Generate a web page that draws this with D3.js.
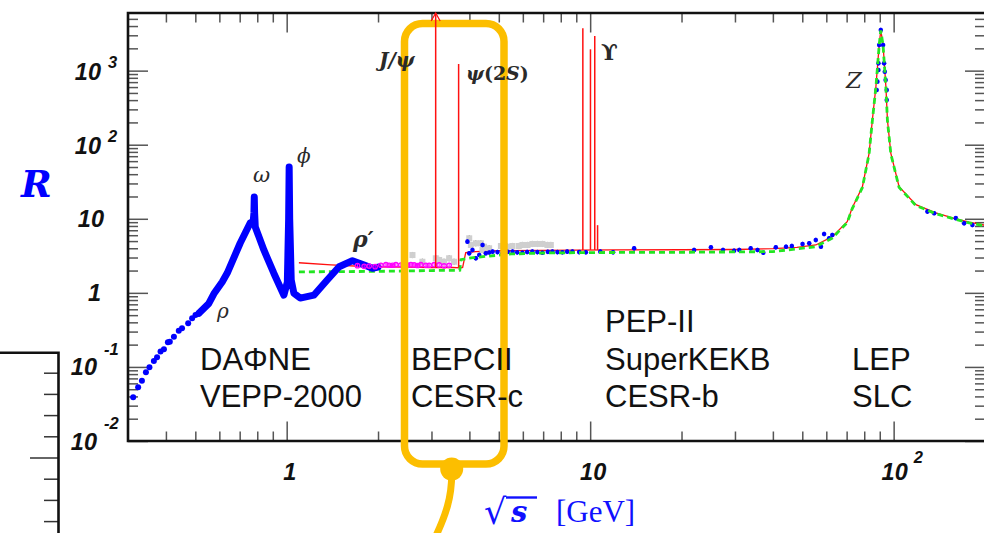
<!DOCTYPE html>
<html><head><meta charset="utf-8">
<script src="https://cdn.jsdelivr.net/npm/d3@7/dist/d3.min.js"></script>
<style>html,body{margin:0;padding:0;background:#fff;overflow:hidden}svg{display:block}</style>
</head><body>
<svg id="chart" width="984" height="533"></svg>
<script>
// ---------------- DATA ----------------
// low-energy e+e- -> hadrons (sparse points)
const lowSparseX = [0.312,0.324,0.3334,0.3437,0.353,0.365,0.374,0.384,0.394,0.406,0.412,0.425,0.441,0.452,0.4736,0.488,0.5006,0.5137];
const lowSparseR = [0.0389,0.0531,0.0652,0.0846,0.0989,0.120,0.135,0.161,0.173,0.215,0.219,0.256,0.308,0.332,0.389,0.454,0.503,0.53];
// low-energy dense band (rho, omega, phi, rho')
const lowBandX = [0.5137,0.534,0.554,0.5755,0.613,0.637,0.703,0.730,0.758,0.776,0.780,0.782,0.784,0.788,0.841,0.907,0.979,1.005,1.015,1.019,1.023,1.035,1.056,1.108,1.229,1.36,1.489,1.647,1.80,1.918,2.0];
const lowBandR = [0.53,0.62,0.72,0.97,1.4,1.85,4.71,6.43,8.77,9.3,12,19.7,12,7.75,3.79,1.84,0.93,1.4,10,50,10,1.5,0.99,0.85,0.93,1.49,2.25,2.72,2.38,2.15,2.23];
// parametrisation (red) and naive quark model (green dashed)
const redX = [1.097,1.4,1.87,2.5,3.0,3.52,3.75,3.80,3.89,4.2,5.0,7.0,9.0,12,20,30,40,48,55.4,62.8,70.3,73.0,78.9,83.0,85.1,87.4,89.6,90.7,92.3,94.3,95.4,97.9,104.2,118.4,137.7,160.3,177.4,200];
const redR = [2.55,2.38,2.25,2.22,2.2,2.2,2.18,2.2,3.5,3.6,3.7,3.75,3.78,3.8,3.82,3.85,3.95,4.1,4.43,5.73,9.14,14,27.1,76.6,216,606,2220,3540,2220,606,216,76.6,27.1,15.5,12,10,9,8.2];
const greenX = [1.097,2.0,3.0,3.72,3.75,4.0,4.5,5.5,7,10,20,40,55.4,62.8,70.3,73.0,78.9,83.0,85.1,87.4,89.6,90.7,92.3,94.3,95.4,97.9,104.2,118.4,137.7,160.3,177.4,200];
const greenR = [1.92,1.95,2.0,2.02,2.8,2.95,3.1,3.35,3.45,3.5,3.53,3.6,4.2,5.5,8.9,13.6,26.5,75,212,595,2180,3480,2180,595,212,75,26.5,15.1,11.7,9.8,8.8,8.0];
// narrow resonances
const resNames = ["J/psi","psi(2S)","Y(1S)","Y(2S)","Y(3S)","Y(4S)"];
const resMass = [3.097,3.686,9.460,10.023,10.355,10.579];
const resBase = [2.2,2.2,3.8,3.8,3.8,3.8];
const resPeak = [100000,1230,3730,1940,2940,8.2];
// magenta points
const magX = [1.711,1.80,1.870,1.956,2.044,2.123,2.177,2.232,2.290,2.378,2.438,2.500,2.566,2.631,2.698,2.768,2.875,2.948,3.062,3.18,3.30,3.43];
const magR = [2.33,2.28,2.3,2.26,2.36,2.4,2.36,2.36,2.4,2.37,2.43,2.37,2.4,2.38,2.34,2.4,2.36,2.36,2.4,2.38,2.32,2.35];
// grey points
const grayX = [2.597,2.80,3.10,3.18,3.30,3.43,3.56,3.995,4.045,4.20,4.364,4.418,4.47,4.647,5.08,5.33,5.546,5.82,5.98,6.22,6.45,6.70,6.96,7.23,7.42];
const grayR = [3.24,2.63,2.93,2.78,2.63,2.93,2.63,5.45,4.43,4.67,4.67,3.79,4.2,4.0,4.29,4.2,4.29,4.29,4.43,4.43,4.57,4.57,4.57,4.43,4.43];
// blue points above charm threshold
const blueX = [3.94,3.995,4.094,4.20,4.31,4.42,4.53,4.65,4.77,4.95,5.14,5.35,5.55,5.75,5.98,6.2,6.45,6.7,6.96,7.25,7.51,7.8,8.10,8.4,8.74,9.2,9.68,10.8,11.9,13.96,22.0,25.0,27.4,29.8,31.0,33.8,35.6,37.2,40.9,44.2,46.2,50.1,52.7,55.4,57.6,59.0,61.3,62.8,87.9,88.4,89.1,89.1,89.6,90.7,92.3,93.0,93.5,94.1,94.9,94.9,129.2,136.0,160.3,170.7,181.8];
const blueR = [4.91,3.42,3.79,2.93,3.24,4.43,3.42,3.5,3.60,3.55,3.42,3.58,3.60,3.52,3.48,3.56,3.60,3.55,3.48,3.58,3.60,3.55,3.53,3.6,3.60,3.55,3.53,3.6,3.53,4.0,3.79,4.12,3.79,3.71,3.79,4.0,3.79,3.48,4.12,4.2,4.29,4.57,4.67,5.17,4.2,6.23,5.45,6.04,548,710,1020,1256,2220,3540,2220,1256,968,748,548,401,12.5,11.9,10.2,8.69,8.24];
// axis ticks
const xMajor = [1,10,100];
const xMajorBase = ["1","10","10"];
const xMajorExp = ["","","2"];
const yMajor = [0.01,0.1,1,10,100,1000];
const yMajorBase = ["10","10","1","10","10","10"];
const yMajorExp = ["-2","-1","","","2","3"];
// annotations
const colliderCols = [["DAΦNE","VEPP-2000"],["BEPCII","CESR-c"],["PEP-II","SuperKEKB","CESR-b"],["LEP","SLC"]];

// ---------------- DRAW ----------------
const svg = d3.select("#chart");
const L=128,R=985,T=13,B=441;
const x = d3.scaleLog().domain([0.3,200]).range([L,R]);
const y = d3.scaleLog().domain([0.01,6000]).range([B,T]);
const zip = (a,b)=>a.map((v,i)=>[v,b[i]]);

svg.append("defs").append("clipPath").attr("id","plot")
  .append("rect").attr("x",L).attr("y",T).attr("width",R-L).attr("height",B-T);

// ---- neighbouring panel (cropped) ----
const y2 = d3.scaleLinear().domain([0,1]).range([458,373.2]);
const p2 = svg.append("g");
p2.selectAll("line.t2").data(d3.range(-0.75,1.01,0.25)).join("line")
  .attr("x1",d=>Math.abs(d)<1e-9?30:44).attr("x2",58)
  .attr("y1",d=>y2(d)).attr("y2",d=>y2(d)).attr("stroke","#333").attr("stroke-width",1.5);
p2.append("path").attr("d","M0,352.7H58.5V540").attr("fill","none").attr("stroke","#111").attr("stroke-width",2.6);

// ---- axes ticks ----
const allX = x.ticks().filter(v=>v>0.3001 && v<199.9);
const minorX = allX.filter(v=>!xMajor.includes(v));
const allY = y.ticks().filter(v=>v>0.0101 && v<5999);
const minorY = allY.filter(v=>!yMajor.some(m=>Math.abs(m-v)/m<1e-6));
const tickCol="#555";
const gx = svg.append("g");
function axisTicks(vals, len){
  gx.append("g").attr("transform",`translate(0,${B})`).call(d3.axisBottom(x).tickValues(vals).tickSize(-len).tickFormat(""))
    .call(g=>{g.select(".domain").remove();g.selectAll("line").attr("stroke",tickCol).attr("stroke-width",1.5);});
  gx.append("g").attr("transform",`translate(0,${T})`).call(d3.axisTop(x).tickValues(vals).tickSize(-len).tickFormat(""))
    .call(g=>{g.select(".domain").remove();g.selectAll("line").attr("stroke",tickCol).attr("stroke-width",1.5);});
}
axisTicks(minorX,9.5); axisTicks(xMajor,19.5);
function axisTicksY(vals,len){
  gx.append("g").attr("transform",`translate(${L},0)`).call(d3.axisLeft(y).tickValues(vals).tickSize(-len).tickFormat(""))
    .call(g=>{g.select(".domain").remove();g.selectAll("line").attr("stroke",tickCol).attr("stroke-width",1.5);});
  gx.append("g").attr("transform",`translate(${R},0)`).call(d3.axisRight(y).tickValues(vals).tickSize(-len).tickFormat(""))
    .call(g=>{g.select(".domain").remove();g.selectAll("line").attr("stroke",tickCol).attr("stroke-width",1.5);});
}
axisTicksY(minorY,10); axisTicksY(yMajor,20);

// tick labels
const tickFont = "'Liberation Sans',Arial,Helvetica,sans-serif";
const xl = svg.append("g").attr("font-family",tickFont).attr("font-weight","bold").attr("font-style","italic").attr("fill","#111");
xMajor.forEach((v,i)=>{
  xl.append("text").attr("x",x(v)+ (i===2?1:3)).attr("y",480).attr("text-anchor","middle").attr("font-size",23.5).text(xMajorBase[i]);
  if(xMajorExp[i]) xl.append("text").attr("x",x(v)+20).attr("y",463).attr("font-size",16.5).text(xMajorExp[i]);
});
yMajor.forEach((v,i)=>{
  const e = yMajorExp[i];
  if(!e){
    xl.append("text").attr("x",yMajorBase[i]==="1"?101:104).attr("y",y(v)+8.5).attr("text-anchor","end").attr("font-size",23.5).text(yMajorBase[i]);
  } else if(e.startsWith("-")){
    xl.append("text").attr("x",97).attr("y",y(v)+8.5).attr("text-anchor","end").attr("font-size",23.5).text(yMajorBase[i]);
    xl.append("text").attr("x",104).attr("y",y(v)-12).attr("font-size",16.5).text(e);
  } else {
    xl.append("text").attr("x",101).attr("y",y(v)+9.5).attr("text-anchor","end").attr("font-size",23.5).text(yMajorBase[i]);
    xl.append("text").attr("x",108).attr("y",y(v)-2.5).attr("font-size",16.5).text(e);
  }
});

// ---- data layer ----
const gd = svg.append("g").attr("clip-path","url(#plot)");
const line = d3.line().x(d=>x(d[0])).y(d=>y(d[1]));

// red parametrisation
gd.append("path").datum(zip(redX,redR)).attr("d",line).attr("fill","none").attr("stroke","#ff1010").attr("stroke-width",1.3);
// grey points with error bars
const gray = zip(grayX,grayR);
gd.selectAll("line.ge").data(gray).join("line").attr("x1",d=>x(d[0])).attr("x2",d=>x(d[0]))
  .attr("y1",d=>y(d[1]*1.1)).attr("y2",d=>y(d[1]/1.1)).attr("stroke","#666").attr("stroke-width",1);
gd.selectAll("rect.gp").data(gray).join("rect").attr("x",d=>x(d[0])-3).attr("y",d=>y(d[1])-3)
  .attr("width",6).attr("height",6).attr("fill","#cfcfcf");
// blue points
const blue = zip(blueX,blueR);
gd.selectAll("line.be").data(blue).join("line").attr("x1",d=>x(d[0])).attr("x2",d=>x(d[0]))
  .attr("y1",d=>y(d[1]*1.07)).attr("y2",d=>y(d[1]/1.07)).attr("stroke","#0000ee").attr("stroke-width",1.4);
gd.selectAll("circle.bp").data(blue).join("circle").attr("cx",d=>x(d[0])).attr("cy",d=>y(d[1])).attr("r",2.3).attr("fill","#0000ff");
// green dashed
gd.append("path").datum(zip(greenX,greenR)).attr("d",line).attr("fill","none").attr("stroke","#22e622")
  .attr("stroke-width",2.8).attr("stroke-dasharray","6,4");
// low energy band + sparse
gd.append("path").datum(zip(lowBandX,lowBandR)).attr("d",line).attr("fill","none").attr("stroke","#0000ff")
  .attr("stroke-width",7).attr("stroke-linejoin","round").attr("stroke-linecap","round");
gd.selectAll("circle.lp").data(zip(lowSparseX,lowSparseR)).join("circle").attr("cx",d=>x(d[0])).attr("cy",d=>y(d[1])).attr("r",3).attr("fill","#0000ff");
// magenta points
const mag = zip(magX,magR);
gd.selectAll("line.me").data(mag).join("line").attr("x1",d=>x(d[0])).attr("x2",d=>x(d[0]))
  .attr("y1",d=>y(d[1]*1.05)).attr("y2",d=>y(d[1]/1.05)).attr("stroke","#ff00ff").attr("stroke-width",1);
gd.selectAll("circle.mp").data(mag).join("circle").attr("cx",d=>x(d[0])).attr("cy",d=>y(d[1])).attr("r",2.2)
  .attr("fill","none").attr("stroke","#ff00ff").attr("stroke-width",1.3);
// narrow resonance spikes (except J/psi drawn later above overlay)
const res = resMass.map((m,i)=>({m,b:resBase[i],p:resPeak[i],n:resNames[i]}));
gd.selectAll("line.rs").data(res.slice(1)).join("line").attr("x1",d=>x(d.m)).attr("x2",d=>x(d.m))
  .attr("y1",d=>y(d.b)).attr("y2",d=>y(d.p)).attr("stroke","#ff1010").attr("stroke-width",1.5);

// frame
svg.append("path").attr("d",`M${R},${T}H${L}V${B}H${R}`).attr("fill","none").attr("stroke","#111").attr("stroke-width",2.6);

// ---- orange highlight overlay ----
const og = svg.append("g").attr("stroke","#fcbe00").attr("fill","none");
og.append("rect").attr("x",404.5).attr("y",23.5).attr("width",99.5).attr("height",440.5).attr("rx",18).attr("stroke-width",7.5);
og.append("circle").attr("cx",451.7).attr("cy",469).attr("r",11.5).attr("fill","#fcbe00").attr("stroke","none");
og.append("path").attr("d","M451.7,472 C452,497 446,515 434,540").attr("stroke-width",7);

// J/psi spike with arrow (over overlay)
const jp = res[0];
svg.append("line").attr("x1",x(jp.m)).attr("x2",x(jp.m)).attr("y1",y(jp.b)).attr("y2",y(6000)).attr("stroke","#ff1010").attr("stroke-width",1.5);
svg.append("path").attr("d",`M${x(jp.m)-4.5},${y(6000)+8}L${x(jp.m)},${y(6000)}L${x(jp.m)+4.5},${y(6000)+8}`)
  .attr("fill","none").attr("stroke","#ff1010").attr("stroke-width",1.3);

// ---- particle labels ----
const lab = svg.append("g").attr("fill","#2a2a2a").attr("font-family","'DejaVu Serif','Liberation Serif',serif");
lab.append("text").attr("x",253).attr("y",182).attr("font-size",21).attr("font-style","italic").text("ω");
lab.append("text").attr("x",297).attr("y",163).attr("font-size",20).attr("font-style","italic").text("ϕ");
lab.append("text").attr("x",217).attr("y",318).attr("font-size",20).attr("font-style","italic").text("ρ");
lab.append("text").attr("x",353).attr("y",247).attr("font-size",22).attr("font-style","italic").attr("font-weight","bold").text("ρ′");
lab.append("text").attr("x",379).attr("y",67).attr("font-size",20).attr("font-style","italic").attr("font-weight","bold").text("J/ψ");
lab.append("text").attr("x",466).attr("y",80).attr("font-size",19).attr("font-weight","bold").html("<tspan font-style='italic'>ψ</tspan>(2<tspan font-style='italic'>S</tspan>)");
lab.append("text").attr("x",601).attr("y",60).attr("font-size",22).attr("font-weight","bold").text("ϒ");
lab.append("text").attr("x",846).attr("y",88).attr("font-size",23).attr("font-style","italic").text("Z");

// ---- collider labels ----
const cl = svg.append("g").attr("font-family","'Liberation Sans',Arial,Helvetica,sans-serif").attr("font-size",31).attr("fill","#111");
const colX = [200,411,605,852];
colliderCols.forEach((col,i)=>{
  col.forEach((t,j)=>{
    cl.append("text").attr("x",colX[i]).attr("y",407 - (col.length-1-j)*37.5).text(t);
  });
});

// ---- axis titles ----
svg.append("text").attr("x",21).attr("y",197).attr("font-family","'DejaVu Serif','Liberation Serif',serif")
  .attr("font-size",37).attr("font-weight","bold").attr("font-style","italic").attr("fill","#0000ff").text("R");
const xtg = svg.append("g").attr("fill","#1010ff").attr("font-family","'Liberation Serif','DejaVu Serif',serif");
xtg.append("text").attr("x",484).attr("y",524).attr("font-size",35).attr("font-family","'DejaVu Sans',sans-serif").text("√");
xtg.append("text").attr("x",511).attr("y",522).attr("font-size",29).attr("font-weight","bold").attr("font-style","italic").attr("font-family","'DejaVu Serif',serif").text("s");
xtg.append("text").attr("x",556).attr("y",522).attr("font-size",31).text("[GeV]");
svg.append("line").attr("x1",506).attr("x2",537).attr("y1",497.5).attr("y2",497.5).attr("stroke","#1010ff").attr("stroke-width",2.4);
</script>
</body></html>
